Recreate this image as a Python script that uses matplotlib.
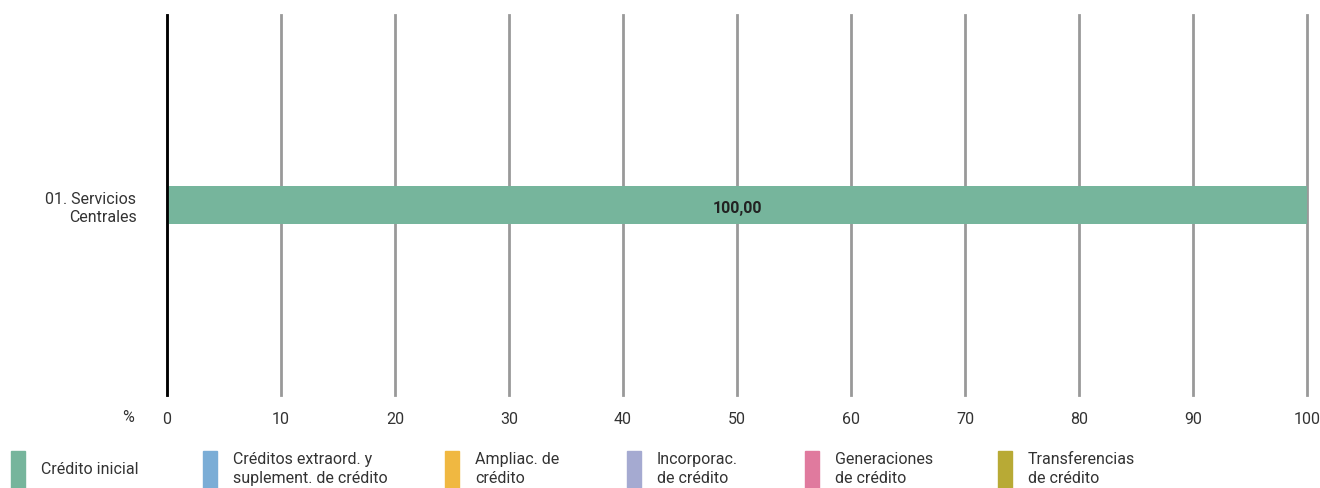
import matplotlib.pyplot as plt
from matplotlib.patches import Rectangle

plt.rcParams['font.family'] = ['Roboto', 'DejaVu Sans']

# Data
categories = ['01. Servicios\nCentrales']
series_names = ['Crédito inicial', 'Créditos extraord. y\nsuplement. de crédito',
                'Ampliac. de\ncrédito', 'Incorporac.\nde crédito',
                'Generaciones\nde crédito', 'Transferencias\nde crédito']
series_values = [[100.00], [0], [0], [0], [0], [0]]
colors = ['#76B59C', '#7BADD6', '#F0B841', '#A5AAD1', '#E07A9E', '#B8AA35']
xticks = [0, 10, 20, 30, 40, 50, 60, 70, 80, 90, 100]

W, H = 1320, 488
fig = plt.figure(figsize=(W / 100, H / 100), dpi=100)
ax = fig.add_axes([167 / W, 1 - 395 / H, (1307 - 167) / W, (395 - 15) / H])

# stacked horizontal bars
left = [0] * len(categories)
for name, vals, c in zip(series_names, series_values, colors):
    ax.barh(range(len(categories)), vals, left=left, height=0.1, color=c, zorder=3)
    for i, v in enumerate(vals):
        if v > 0:
            ax.text(left[i] + v / 2, i - 0.008, f'{v:.2f}'.replace('.', ','),
                    ha='center', va='center', fontsize=11.5, fontweight='bold',
                    color='#222222', zorder=4)
    left = [l + v for l, v in zip(left, vals)]

ax.set_xlim(0, 100)
ax.set_ylim(-0.5, 0.5)
ax.set_xticks(xticks)
ax.xaxis.grid(True, color='#999999', linewidth=2, zorder=0)
for gl in ax.get_xgridlines():
    gl.set_clip_on(False)
ax.set_yticks(range(len(categories)))
ax.set_yticklabels(categories, fontsize=11.5, color='#333333', linespacing=1.3)
ax.tick_params(axis='both', length=0, labelsize=11.5, colors='#333333')
ax.tick_params(axis='x', pad=12)
ax.tick_params(axis='y', pad=22)
for s in ['top', 'right', 'bottom']:
    ax.spines[s].set_visible(False)
ax.spines['left'].set_linewidth(2)
ax.spines['left'].set_color('black')
ax.spines['left'].set_zorder(5)

fig.text(128 / W, 1 - 418 / H, '%', ha='center', va='center', fontsize=11.5, color='#333333')

# custom legend along the bottom
leg_x = [11, 203, 445, 627, 805, 998]
for x, name, c in zip(leg_x, series_names, colors):
    fig.patches.append(Rectangle((x / W, 1 - 488 / H), 14 / W, 37 / H,
                                 transform=fig.transFigure, color=c))
    fig.text((x + 30) / W, 1 - 469 / H, name, ha='left', va='center',
             fontsize=11.5, color='#333333', linespacing=1.3)

fig.savefig('out.png', dpi=100)
